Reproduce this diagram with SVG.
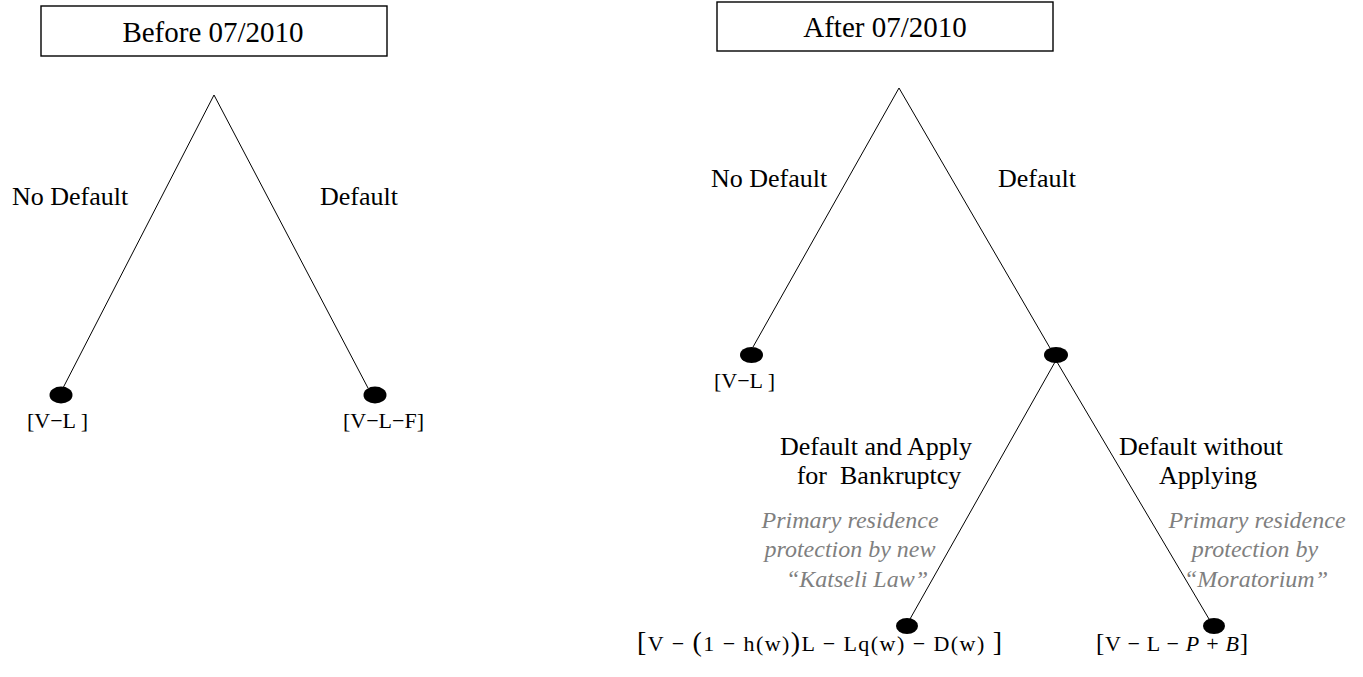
<svg xmlns="http://www.w3.org/2000/svg" width="1363" height="677" viewBox="0 0 1363 677">
<style>
.box{fill:#fff;stroke:#000;stroke-width:1.4}
.title{font-family:"Liberation Serif",serif;font-size:29px;fill:#000;text-anchor:middle}
.lbl{font-family:"Liberation Serif",serif;font-size:26px;fill:#000}
.note{font-family:"Liberation Serif",serif;font-size:24px;font-style:italic;fill:#7f7f7f;text-anchor:middle}
.math{font-family:"Liberation Serif","DejaVu Serif",serif;font-size:22px;fill:#000}
.edge{stroke:#000;stroke-width:1;fill:none}
.dot{fill:#000}
</style>
<rect width="1363" height="677" fill="#fff"/>
<g id="connectors">
<line class="edge" x1="214" y1="95" x2="63" y2="388"/>
<line class="edge" x1="214" y1="95" x2="368" y2="388"/>
<line class="edge" x1="899" y1="88" x2="753" y2="347"/>
<line class="edge" x1="899" y1="88" x2="1050" y2="348"/>
<line class="edge" x1="1055" y1="362" x2="910" y2="619"/>
<line class="edge" x1="1057" y1="362" x2="1209" y2="619"/>
</g>
<g id="before-title">
<rect class="box" x="41" y="6" width="346" height="50"/>
<text class="title" x="213" y="42">Before 07/2010</text>
</g>
<g id="after-title">
<rect class="box" x="717" y="2" width="336" height="49"/>
<text class="title" x="885" y="37">After 07/2010</text>
</g>
<g id="before-labels">
<text class="lbl" x="12" y="205">No Default</text>
<text class="lbl" x="320" y="205">Default</text>
</g>
<g id="before-no-default">
<ellipse class="dot" cx="61" cy="395" rx="11.5" ry="8.5"/>
<text class="math" x="27" y="428">[V−L ]</text>
</g>
<g id="before-default">
<ellipse class="dot" cx="375" cy="395" rx="11.5" ry="8.5"/>
<text class="math" x="343" y="428">[V−L−F]</text>
</g>
<g id="after-labels">
<text class="lbl" x="711" y="187">No Default</text>
<text class="lbl" x="998" y="187">Default</text>
</g>
<g id="after-no-default">
<ellipse class="dot" cx="751.5" cy="355" rx="11.5" ry="8"/>
<text class="math" x="714" y="388">[V−L ]</text>
</g>
<g id="after-default">
<ellipse class="dot" cx="1056" cy="355" rx="12" ry="8"/>
<text class="lbl" x="876" y="455" text-anchor="middle">Default and Apply</text>
<text class="lbl" x="879" y="484" text-anchor="middle" xml:space="preserve">for  Bankruptcy</text>
<text class="lbl" x="1201" y="455" text-anchor="middle">Default without</text>
<text class="lbl" x="1208" y="484" text-anchor="middle">Applying</text>
</g>
<g id="bankruptcy">
<ellipse class="dot" cx="907" cy="626" rx="11" ry="8"/>
<text class="note" x="850" y="528">Primary residence</text>
<text class="note" x="850" y="557">protection by new</text>
<text class="note" x="857" y="587">“Katseli Law”</text>
<text class="math" x="637" y="651" textLength="365" lengthAdjust="spacing"><tspan font-size="28">[</tspan>V − <tspan font-size="28">(</tspan>1 − h(w)<tspan font-size="28">)</tspan>L − Lq(w) − D(w) <tspan font-size="28">]</tspan></text>
</g>
<g id="no-apply">
<ellipse class="dot" cx="1214" cy="626" rx="11" ry="8"/>
<text class="note" x="1257" y="528">Primary residence</text>
<text class="note" x="1255" y="557">protection by</text>
<text class="note" x="1256" y="587">“Moratorium”</text>
<text class="math" x="1096" y="651" textLength="152" lengthAdjust="spacing"><tspan font-size="25">[</tspan>V − L − <tspan font-style="italic">P</tspan> + <tspan font-style="italic">B</tspan><tspan font-size="25">]</tspan></text>
</g>
</svg>
